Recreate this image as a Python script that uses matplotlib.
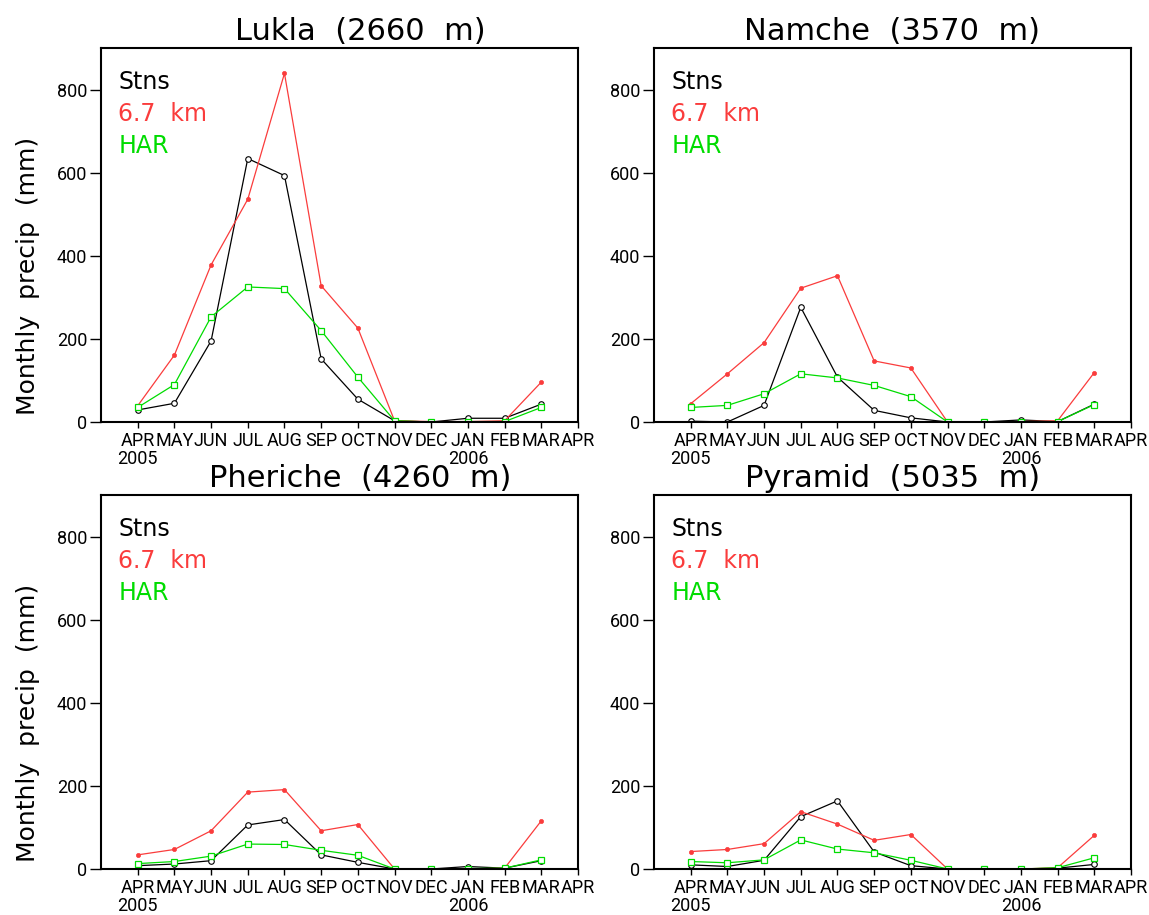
import matplotlib
matplotlib.use("Agg")
import matplotlib.pyplot as plt

months = ["APR", "MAY", "JUN", "JUL", "AUG", "SEP", "OCT", "NOV", "DEC", "JAN", "FEB", "MAR", "APR"]
years = ["2005", "2006"]
stations = ["Lukla (2660 m)", "Namche (3570 m)", "Pheriche (4260 m)", "Pyramid (5035 m)"]

# monthly precip (mm), Apr 2005 - Mar 2006
stns_lukla = [29, 45, 195, 634, 593, 152, 55, 3, 0, 9, 9, 43]
km67_lukla = [39, 161, 378, 536, 839, 328, 226, 3, 1, 1, 3, 96]
har_lukla = [35, 90, 253, 325, 321, 220, 108, 3, 0, 1, 1, 35]

stns_namche = [2, 0, 40, 276, 108, 28, 10, 0, 0, 5, 1, 43]
km67_namche = [44, 116, 191, 322, 352, 147, 130, 0, 0, 1, 3, 119]
har_namche = [35, 40, 68, 116, 106, 88, 61, 0, 0, 1, 1, 42]

stns_pheriche = [8, 12, 20, 106, 119, 34, 16, 0, 0, 6, 2, 20]
km67_pheriche = [34, 47, 92, 185, 191, 92, 107, 0, 0, 0, 2, 116]
har_pheriche = [13, 18, 31, 60, 59, 45, 33, 0, 0, 1, 2, 22]

stns_pyramid = [10, 6, 21, 126, 164, 41, 8, 0, 0, 0, 2, 11]
km67_pyramid = [42, 47, 61, 138, 108, 69, 83, 0, 0, 0, 3, 81]
har_pyramid = [18, 15, 22, 70, 48, 39, 21, 0, 0, 0, 3, 27]

panels = [
    (stns_lukla, km67_lukla, har_lukla),
    (stns_namche, km67_namche, har_namche),
    (stns_pheriche, km67_pheriche, har_pheriche),
    (stns_pyramid, km67_pyramid, har_pyramid),
]

red = "#fa3c3c"
green = "#00dc00"
narrow = ["Roboto", "DejaVu Sans"]

fig = plt.figure(figsize=(11.49, 9.15), dpi=100)

W, H = 1149, 915
boxes = [(101, 48), (654, 48), (101, 495), (654, 495)]
aw, ah = 477, 374

for k, (x0, y0) in enumerate(boxes):
    ax = fig.add_axes([x0 / W, 1 - (y0 + ah) / H, aw / W, ah / H])
    stns, km, har = panels[k]
    x = list(range(len(stns)))
    ax.plot(x, stns, color="black", lw=0.9, marker="o", ms=4, mfc="white", mec="black", mew=0.8)
    ax.plot(x, km, color=red, lw=0.9, marker="o", ms=3, mfc=red, mec=red, mew=0.5)
    ax.plot(x, har, color=green, lw=0.9, marker="s", ms=4.5, mfc="white", mec=green, mew=0.9)

    ax.set_xlim(-1, 12)
    ax.set_ylim(0, 900)
    ax.set_xticks(range(len(months)))
    ax.set_xticklabels(months, family=narrow, fontsize=13)
    ax.set_yticks([0, 200, 400, 600, 800])
    ax.set_yticklabels(["0", "200", "400", "600", "800"], family=narrow, fontsize=13)
    ax.tick_params(axis="x", length=4, width=1, pad=3)
    ax.tick_params(axis="y", length=8, width=1, pad=2)
    for s in ax.spines.values():
        s.set_linewidth(1.5)

    ax.text(0, -0.074, years[0], transform=ax.get_xaxis_transform(), ha="center", va="top",
            family=narrow, fontsize=13)
    ax.text(9, -0.074, years[1], transform=ax.get_xaxis_transform(), ha="center", va="top",
            family=narrow, fontsize=13)

    name, elev = stations[k].split(" ")[0], stations[k].split(" ", 1)[1]
    title = name + "  " + elev.replace(" ", "  ")
    tx = 0.543 if k % 2 == 0 else 0.5
    ax.text(tx, 1 + 8 / ah, title, transform=ax.transAxes, ha="center", va="baseline", fontsize=22)

    ax.text(0.036, 0.89, "Stns", transform=ax.transAxes, color="black", fontsize=17, va="baseline")
    ax.text(0.036, 0.805, "6.7  km", transform=ax.transAxes, color=red, fontsize=17, va="baseline")
    ax.text(0.036, 0.72, "HAR", transform=ax.transAxes, color=green, fontsize=17, va="baseline")

fig.text(28 / W, 1 - 276 / H, "Monthly  precip  (mm)", rotation=90, ha="center", va="center", fontsize=18)
fig.text(28 / W, 1 - 723 / H, "Monthly  precip  (mm)", rotation=90, ha="center", va="center", fontsize=18)

fig.savefig("out.png", dpi=100)
